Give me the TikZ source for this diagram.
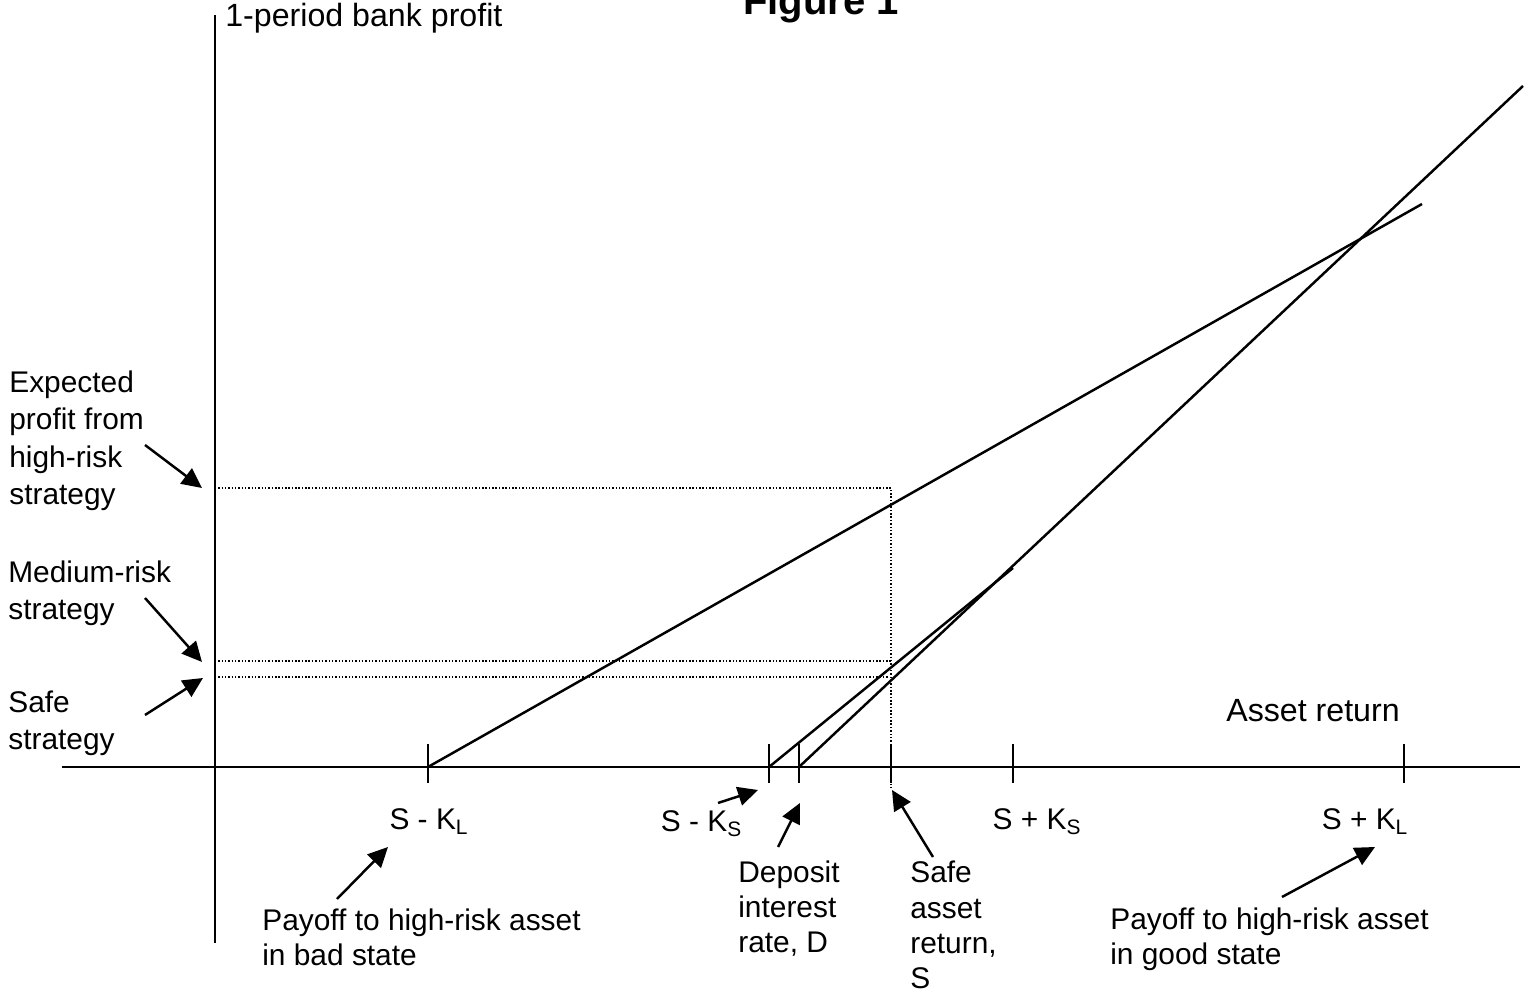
\documentclass[tikz,border=0pt]{standalone}
\usepackage{fontspec}
\setmainfont{Liberation Sans}
\usetikzlibrary{arrows.meta}

\begin{document}
\begin{tikzpicture}[
  >={Triangle[length=0.4cm,width=0.38cm]},
  every node/.style={font=\fontsize{17}{20.2}\selectfont, inner sep=0pt},
  axis/.style={line width=1.4pt},
  tickmark/.style={line width=1.4pt},
  payoff/.style={line width=1.4pt},
  guide/.style={line width=0.8pt, dash pattern=on 0.8pt off 1.1pt},
  pointer/.style={->, line width=1.4pt},
  lbl/.style={anchor=base west, align=left},
  axislbl/.style={lbl, font=\fontsize{18.3}{22}\selectfont},
  sidelbl/.style={lbl, font=\fontsize{17}{21.3}\selectfont},
  ticklbl/.style={anchor=base},
  title/.style={anchor=base west, font=\fontsize{22.8}{27}\selectfont\bfseries},
]
\useasboundingbox (-4.3,-4.58) rectangle (26.38,15.34);

% axes
\coordinate (o) at (0,0);
\coordinate (xl) at (-3.06,0);
\coordinate (xr) at (26.1,0);
\coordinate (yt) at (0,15.04);
\coordinate (yb) at (0,-3.52);
\draw[axis] (xl) -- (xr);
\draw[axis] (yb) -- (yt);

% tick positions on the asset return axis
\foreach \name/\x in {skl/4.26, sks/11.08, dep/11.68, safe/13.52, spks/15.96, spkl/23.78}{
  \coordinate (\name) at (\x,0);
  \draw[tickmark] (\x,0.46) -- (\x,-0.32);
}

% payoff lines
\coordinate (hiend) at (24.14,11.26);
\coordinate (medend) at (15.96,3.98);
\coordinate (safeend) at (26.16,13.62);
\draw[payoff] (skl) -- (hiend);
\draw[payoff] (sks) -- (medend);
\draw[payoff] (dep) -- (safeend);

% expected profit levels
\coordinate (ehi) at (0,5.58);
\coordinate (emed) at (0,2.12);
\coordinate (esafe) at (0,1.8);
\coordinate (ehicorner) at (13.52,5.58);
\coordinate (ehibot) at (13.52,-0.46);
\draw[guide] (ehi) -- (ehicorner) -- (ehibot);
\draw[guide] (emed) -- (13.52,2.12);
\draw[guide] (esafe) -- (13.46,1.8);

% axis labels
\node[title] at (10.56,15.04) (fig) {Figure 1};
\node[axislbl] at (0.2,14.8) (ylab) {1-period bank profit};
\node[axislbl] at (20.22,0.9) (xlab) {Asset return};

% left labels (anchored at last line)
\node[sidelbl] at (-4.12,5.25) (lhi) {Expected\\profit from\\high-risk\\strategy};
\node[sidelbl] at (-4.14,2.95) (lmed) {Medium-risk\\strategy};
\node[sidelbl] at (-4.14,0.35) (lsafe) {Safe\\strategy};

% tick labels
\node[ticklbl] at (4.28,-1.26) (tskl) {S - K\textsubscript{L}};
\node[ticklbl] at (9.73,-1.3) (tsks) {S - K\textsubscript{S}};
\node[ticklbl] at (16.44,-1.26) (tspks) {S + K\textsubscript{S}};
\node[ticklbl] at (23.0,-1.26) (tspkl) {S + K\textsubscript{L}};

% bottom labels (anchored at last line)
\node[lbl] at (10.46,-3.72) (ldep) {Deposit\\interest\\rate, D};
\node[lbl] at (13.9,-4.44) (lsar) {Safe\\asset\\return,\\S};
\node[lbl] at (0.94,-3.98) (lbad) {Payoff to high-risk asset\\in bad state};
\node[lbl] at (17.9,-3.96) (lgood) {Payoff to high-risk asset\\in good state};

% pointers
\coordinate (phi) at (-1.4,6.44);
\coordinate (pmed) at (-1.4,3.38);
\coordinate (psafe) at (-1.4,1.04);
\coordinate (psks) at (10.06,-0.72);
\coordinate (pdep) at (11.26,-1.6);
\coordinate (psar) at (14.36,-1.8);
\coordinate (pgood) at (21.34,-2.6);
\coordinate (pbad) at (2.44,-2.64);
\draw[pointer] (phi) -- (-0.26,5.58);
\draw[pointer] (pmed) -- (-0.26,2.1);
\draw[pointer] (psafe) -- (-0.24,1.78);
\draw[pointer] (psks) -- (10.86,-0.46);
\draw[pointer] (pdep) -- (11.7,-0.72);
\draw[pointer] (psar) -- (13.54,-0.46);
\draw[pointer] (pgood) -- (23.2,-1.6);
\draw[pointer] (pbad) -- (3.46,-1.6);

\end{tikzpicture}
\end{document}
